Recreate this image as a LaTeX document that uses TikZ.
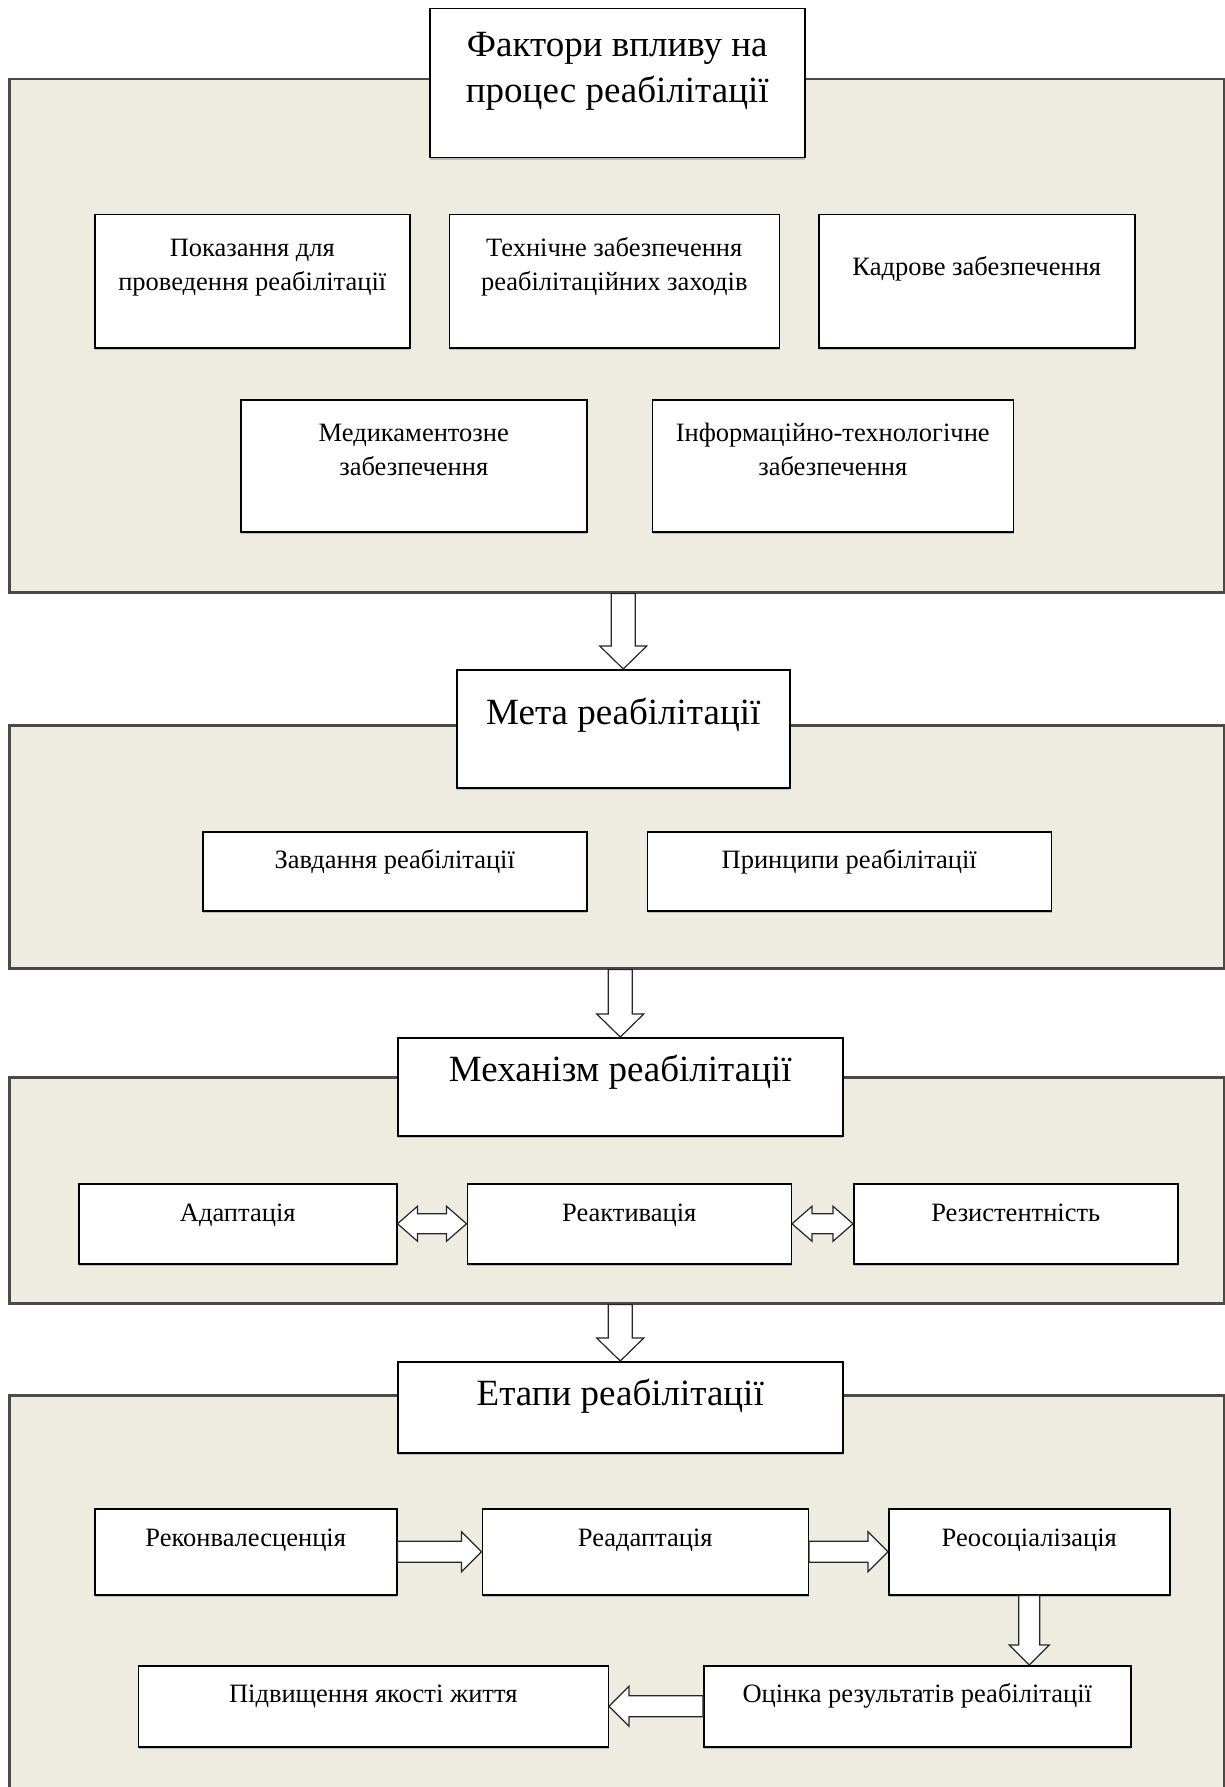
\documentclass[tikz,border=0pt]{standalone}
\usepackage{fontspec}
\setmainfont{Liberation Serif}
\usetikzlibrary{positioning, calc, shadows}

\definecolor{panelfill}{HTML}{EEECE1}
\definecolor{panelline}{HTML}{4A4A4A}

% sizes of the hollow block arrows
\newcommand{\fasw}{12pt}
\newcommand{\fahw}{23.5pt}
\newcommand{\fahl}{23pt}

\newcommand{\fatarrow}[2]{%
	\coordinate (fa-h) at ($(#2)!\fahl!(#1)$);
	\draw [fat] ($(#1)!\fasw!90:(#2)$) -- ($(fa-h)!\fasw!90:(#2)$) -- ($(fa-h)!\fahw!90:(#2)$) -- (#2)
		-- ($(fa-h)!\fahw!-90:(#2)$) -- ($(fa-h)!\fasw!-90:(#2)$) -- ($(#1)!\fasw!-90:(#2)$) -- cycle;
}
\newcommand{\dblarrow}[2]{%
	\coordinate (da-a) at ($(#1)!\fahl!(#2)$);
	\coordinate (da-b) at ($(#2)!\fahl!(#1)$);
	\draw [fat] (#1) -- ($(da-a)!\fahw!90:(#2)$) -- ($(da-a)!\fasw!90:(#2)$)
		-- ($(da-b)!\fasw!90:(#2)$) -- ($(da-b)!\fahw!90:(#2)$) -- (#2)
		-- ($(da-b)!\fahw!-90:(#2)$) -- ($(da-b)!\fasw!-90:(#2)$)
		-- ($(da-a)!\fasw!-90:(#2)$) -- ($(da-a)!\fahw!-90:(#2)$) -- cycle;
}

\tikzset{
	panel/.style={draw=panelline, line width=2.5pt, fill=panelfill, anchor=north west, inner sep=0pt},
	box/.style n args={3}{draw, line width=1.5pt, fill=white, inner sep=0pt, anchor=north west,
		drop shadow={shadow xshift=0.5pt, shadow yshift=-2pt, fill=black!45},
		execute at begin node={\begin{minipage}[t][#2][t]{#1}\centering\vspace*{#3}\strut},
		execute at end node={\end{minipage}}},
	head/.style={font=\fontsize{37}{46}\selectfont},
	txt/.style={font=\fontsize{26.5}{34}\selectfont},
	fat/.style={draw=black!85, fill=white, line width=1.2pt, line join=miter},
}

\begin{document}
\begin{tikzpicture}[x=1pt, y=-1pt]
	\useasboundingbox (0,0) rectangle (1225,1787);

	% factors
	\node (pan1) [panel, minimum width=1215pt, minimum height=513pt] at (8,78) {};
	\node (fak) [box={375pt}{149pt}{16pt}, head] at (429,8) {Фактори впливу на\\процес реабілітації};
	\node (pok) [box={315pt}{133pt}{17.5pt}, txt] at (94,214) {Показання для\\проведення реабілітації};
	\node (tech) [box={330pt}{133pt}{17.5pt}, txt, right=38pt of pok] {Технічне забезпечення\\реабілітаційних заходів};
	\node (kadr) [box={316pt}{133pt}{36.5pt}, txt, right=38pt of tech] {Кадрове забезпечення};
	\node (med) [box={346pt}{132pt}{17.5pt}, txt] at (240,399) {Медикаментозне\\забезпечення};
	\node (inf) [box={361pt}{132pt}{17.5pt}, txt, right=64pt of med] {Інформаційно-технологічне\\забезпечення};

	% goal
	\node (pan2) [panel, minimum width=1215pt, minimum height=243pt] at (8,724) {};
	\node (meta) [box={333pt}{118pt}{23pt}, head] at (456,669) {Мета реабілітації};
	\node (zavd) [box={384pt}{79pt}{12.5pt}, txt] at (202,831) {Завдання реабілітації};
	\node (prin) [box={404pt}{79pt}{12.5pt}, txt, right=59pt of zavd] {Принципи реабілітації};

	% mechanism
	\node (pan3) [panel, minimum width=1215pt, minimum height=226pt] at (8,1076) {};
	\node (mech) [box={445pt}{98pt}{12pt}, head] at (397,1037) {Механізм реабілітації};
	\node (adap) [box={318pt}{80pt}{13.5pt}, txt] at (78,1183) {Адаптація};
	\node (reak) [box={324pt}{80pt}{13.5pt}, txt, right=69pt of adap] {Реактивація};
	\node (rezy) [box={324pt}{80pt}{13.5pt}, txt, right=61pt of reak] {Резистентність};

	% stages
	\node (pan4) [panel, minimum width=1215pt, minimum height=420pt] at (8,1394) {};
	\node (etap) [box={445pt}{91pt}{12pt}, head] at (397,1361) {Етапи реабілітації};
	\node (rekv) [box={302pt}{86pt}{13.5pt}, txt] at (94,1508) {Реконвалесценція};
	\node (read) [box={326pt}{86pt}{13.5pt}, txt, right=84pt of rekv] {Реадаптація};
	\node (reos) [box={281pt}{86pt}{13.5pt}, txt, right=79pt of read] {Реосоціалізація};
	\node (ocin) [box={427pt}{81pt}{12.5pt}, txt] at (703,1665) {Оцінка результатів реабілітації};
	\node (pidv) [box={470pt}{81pt}{12.5pt}, txt, left=94pt of ocin] {Підвищення якості життя};

	\fatarrow{pan1.south -| meta.north}{meta.north}
	\fatarrow{pan2.south -| mech.north}{mech.north}
	\fatarrow{pan3.south -| etap.north}{etap.north}

	\renewcommand{\fasw}{10pt}
	\renewcommand{\fahw}{17.5pt}
	\renewcommand{\fahl}{20pt}
	\dblarrow{adap.east}{reak.west}
	\dblarrow{reak.east}{rezy.west}

	\renewcommand{\fasw}{10.5pt}
	\renewcommand{\fahw}{20pt}
	\fatarrow{rekv.east}{read.west}
	\fatarrow{read.east}{reos.west}
	\fatarrow{reos.south}{reos.south |- ocin.north}
	\fatarrow{ocin.west}{pidv.east}

\end{tikzpicture}
\end{document}
